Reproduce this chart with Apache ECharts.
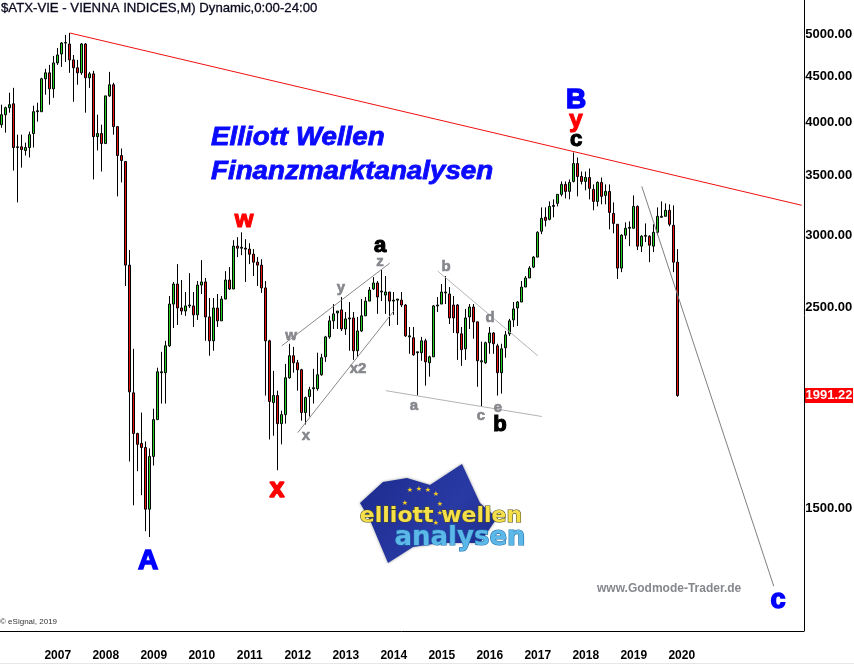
<!DOCTYPE html>
<html><head><meta charset="utf-8">
<style>html,body{margin:0;padding:0;background:#fff}#c{width:854px;height:664px}</style>
<script src="https://cdn.jsdelivr.net/npm/echarts@6/dist/echarts.min.js"></script>
</head><body><div id="c"></div>
<script>
const opens=[3961,4063,4136,4177,3738,3745,3710,3738,3873,4094,4094,4451,4519,4339,4634,4741,4874,4862,4670,4577,4519,4862,4462,4507,3843,3873,3776,4262,4384,3942,3663,3608,2773,2005,1808,1763,1745,1492,1706,1873,2110,2110,2259,2512,2643,2487,2468,2500,2500,2444,2636,2657,2431,2288,2487,2407,2544,2670,2610,2910,2895,2895,2888,2851,2794,2773,2617,2288,1956,1991,1854,1897,2083,2203,2164,2126,1907,1986,2026,2026,2099,2197,2311,2407,2456,2475,2358,2419,2425,2231,2346,2438,2531,2610,2650,2590,2570,2590,2531,2537,2537,2506,2311,2306,2220,2220,2288,2164,2197,2500,2512,2584,2577,2506,2506,2329,2242,2431,2493,2401,2169,2164,2277,2334,2259,2110,2248,2329,2413,2487,2525,2623,2684,2759,2830,3022,3131,3115,3219,3244,3319,3404,3344,3430,3589,3473,3430,3464,3361,3260,3421,3310,3344,3162,3076,2752,2992,3045,3045,3219,2910,2984,2984,2910,3014,3131,3139,3187,3068,2794];
const closes=[4063,4136,4168,3738,3745,3719,3738,3862,4094,4104,4451,4519,4339,4634,4729,4874,4880,4670,4577,4519,4862,4462,4507,3843,3873,3776,4262,4384,3942,3663,3617,2773,2010,1808,1759,1745,1492,1706,1873,2115,2115,2259,2512,2643,2487,2468,2500,2506,2444,2636,2657,2431,2288,2487,2407,2544,2670,2610,2910,2895,2902,2888,2851,2794,2773,2617,2288,1961,1991,1854,1897,2083,2203,2164,2126,1907,1981,2021,2031,2099,2192,2311,2407,2450,2468,2358,2419,2425,2231,2346,2438,2531,2603,2650,2557,2596,2590,2531,2537,2544,2506,2317,2317,2208,2225,2288,2169,2197,2500,2506,2590,2590,2425,2425,2334,2237,2425,2493,2401,2175,2175,2277,2334,2271,2110,2242,2323,2407,2481,2525,2623,2684,2752,2830,3014,3123,3107,3219,3227,3319,3404,3344,3421,3589,3473,3430,3464,3370,3260,3421,3302,3344,3170,3083,2752,2992,3045,3052,3219,2910,2984,2990,2917,3014,3139,3139,3187,3076,2794,1991.22];
const lows=[3930,3882,4084,3526,3252,3552,3663,3645,3738,3992,4094,4274,4168,4241,4611,4588,4646,4519,4199,4384,4496,4084,4350,3447,3710,3517,3776,4252,3862,3302,3421,2630,1684,1507,1643,1546,1411,1390,1667,1873,1951,1951,2253,2364,2382,2444,2438,2487,2370,2413,2577,2288,2203,2231,2370,2407,2544,2603,2610,2830,2844,2657,2780,2697,2630,2584,1991,1781,1798,1647,1759,1854,2078,2110,2016,1868,1850,1888,1951,2016,2094,2169,2300,2358,2358,2346,2323,2231,2180,2197,2340,2438,2531,2603,2450,2531,2450,2376,2444,2382,2493,2311,2214,2203,1991,2175,2042,2089,2197,2462,2512,2512,2388,2334,2180,2147,2180,2358,2300,2036,1936,2158,2214,2214,1991,2001,2192,2317,2370,2376,2525,2623,2684,2752,2830,3000,3059,3107,3131,3219,3302,3285,3277,3421,3302,3404,3353,3277,3187,3219,3236,3236,3037,3007,2677,2724,2962,2910,3045,2881,2866,2940,2794,2866,2992,3131,3139,3060,2724,1985];
const highs=[4168,4147,4296,4350,3862,3862,3785,3892,4157,4188,4462,4565,4611,4717,4813,4887,4975,5000,4729,4670,4874,4874,4530,4542,4063,3961,4262,4530,4406,3942,3729,3608,2881,2242,1812,1907,1772,1741,1926,2137,2225,2288,2564,2657,2780,2670,2590,2717,2590,2663,2808,2684,2551,2551,2577,2564,2731,2759,2954,2977,3014,2962,2932,2888,2830,2815,2663,2294,2120,2016,1916,2158,2271,2253,2180,2131,1986,2036,2131,2220,2214,2317,2438,2512,2468,2557,2462,2525,2462,2431,2544,2557,2623,2690,2663,2738,2697,2590,2590,2544,2590,2512,2370,2370,2225,2311,2300,2203,2506,2557,2643,2697,2623,2564,2512,2370,2481,2512,2512,2401,2283,2283,2370,2340,2271,2271,2346,2419,2525,2531,2663,2697,2766,2837,3022,3211,3211,3260,3277,3319,3430,3430,3447,3691,3645,3517,3517,3544,3404,3430,3464,3404,3404,3252,3076,2999,3091,3099,3310,3227,2992,3083,2992,3076,3211,3260,3244,3236,3227,2888];
const firstYear=2005, firstMonth=10, categoryCount=201;
const yTicks=[5000,4500,4000,3500,3000,2500,1500];
const yearLabels=[2007,2008,2009,2010,2011,2012,2013,2014,2015,2016,2017,2018,2019,2020];
const lastPrice=1991.22;
const resistance=[[17,5000],[200,3228]];
const channelUpper=[[70,2259],[97,2787]];
const channelLower=[[74,1812],[98,2468]];
const triangleLower=[[96,2016],[135,1888]];
const triangleUpper=[[109,2731],[134,2203]];
const projection=[[160,3387],[193,1227]];

const categories=[];
for(let i=0;i<categoryCount;i++){const m=firstMonth+i;categories.push((firstYear+Math.floor(m/12))+'-'+(m%12+1));}
const candles=opens.map((o,i)=>[o,closes[i],lows[i],highs[i]]);
const trend=(d,c,w)=>({type:'line',data:d,symbol:'none',silent:true,z:4,lineStyle:{color:c,width:w||1},animation:false});

const F='"Liberation Sans"';
function t(x,y,text,fill,size,opt,extra){return Object.assign({type:'text',z:20,x:x,y:y,style:Object.assign({text:text,fill:fill,font:'bold '+size+'px '+F,textAlign:'center',textVerticalAlign:'middle'},opt||{})},extra||{});}
const grey='#85878c';
const heavy=(c,w)=>({stroke:c,lineWidth:w});
const graphics=[
 t(1,8,'$ATX-VIE - VIENNA INDICES,M) Dynamic,0:00-24:00','#0b0b20',13,{textAlign:'left',font:'13.2px '+F,stroke:'#0b0b20',lineWidth:0.3}),
 t(211,138,'Elliott Wellen','#0a0aff',25,{textAlign:'left',font:'italic bold 25px '+F,stroke:'#0a0aff',lineWidth:0.8},{scaleX:1.11}),
 t(211,172,'Finanzmarktanalysen','#0a0aff',25,{textAlign:'left',font:'italic bold 25px '+F,stroke:'#0a0aff',lineWidth:0.8},{scaleX:1.11}),
 t(244,220,'w','#ff0000',24,heavy('#ff0000',1.2)),t(277,490,'x','#ff0000',27,heavy('#ff0000',1.5)),
 t(148,561,'A','#0000ff',28,heavy('#0000ff',1.5)),t(576,100,'B','#0000ff',28,heavy('#0000ff',1.5)),t(576,120,'y','#ff0000',24,heavy('#ff0000',1.2)),t(576,140,'c','#000',22,heavy('#000',1.2)),
 t(380,246,'a','#000',22,heavy('#000',1.2)),t(500,425,'b','#000',22,heavy('#000',1.2)),t(778,601,'c','#0000ff',27,heavy('#0000ff',1.5)),
 t(291,336,'w',grey,15,heavy(grey,.6)),t(306,436,'x',grey,15,heavy(grey,.6)),t(341,288,'y',grey,15,heavy(grey,.6)),t(380,262,'z',grey,15,heavy(grey,.6)),t(358,369,'x2',grey,15,heavy(grey,.6)),
 t(414,406,'a',grey,15,heavy(grey,.6)),t(446,267,'b',grey,15,heavy(grey,.6)),t(481,416,'c',grey,15,heavy(grey,.6)),t(490,318,'d',grey,15,heavy(grey,.6)),t(498,408,'e',grey,15,heavy(grey,.6)),
 t(597,589,'www.Godmode-Trader.de',grey,12,{textAlign:'left'}),
 t(0,622,'© eSignal, 2019','#333',8,{textAlign:'left',font:'8px '+F}),
 {type:'rect',z:20,shape:{x:805,y:388,width:48,height:15},style:{fill:'#ff0000'}},
 {type:'rect',z:1,shape:{x:0,y:663,width:854,height:1},style:{fill:'#e6e6e6'}},
 t(829,395.5,lastPrice.toFixed(2),'#fff',13),
 {type:'polygon',z:10,shape:{points:[[360,503],[383,482],[407,478],[430,485],[462,464],[480,503],[497,518],[480,543],[440,543],[413,547],[388,563],[370,520]]},
  style:{fill:{type:'linear',x:0,y:0,x2:1,y2:1,colorStops:[{offset:0,color:'#1a2a8c'},{offset:.6,color:'#2a3aa5'},{offset:1,color:'#1b2a88'}]},shadowBlur:3,shadowColor:'#999'}},
 t(441,516,'elliott wellen','#f5e04a',22,{font:'bold 22px "DejaVu Sans"',stroke:'#4a4a20',lineWidth:1.2}),
 t(460,538,'analysen','#5cb8e8',26,{font:'bold 26px "DejaVu Sans"',stroke:'#1f6fa8',lineWidth:1.2})
];
[[410,490],[419,489],[428,490],[436,494],[440,504],[440,513],[436,523],[405,503]].forEach(p=>graphics.splice(graphics.length-2,0,t(p[0],p[1],'★','#f5d020',7,{font:'7px "DejaVu Sans"'})));

const chart=echarts.init(document.getElementById('c'),null,{renderer:'canvas'});
chart.setOption({
 animation:false,backgroundColor:'#fff',
 grid:{left:-0.25,top:0,width:804,height:631,outerBoundsMode:'none'},
 xAxis:{type:'category',data:categories,boundaryGap:true,
  axisLine:{show:true,onZero:false,lineStyle:{color:'#000',width:1}},axisTick:{show:false},splitLine:{show:false},
  axisLabel:{margin:19,color:'#000',fontFamily:F,fontWeight:'bold',fontSize:12,
   interval:(i,v)=>v.endsWith('-1')&&yearLabels.includes(+v.split('-')[0]),
   formatter:v=>v.split('-')[0]}},
 yAxis:{type:'log',logBase:10,min:1095,max:5437,position:'right',offset:0.5,
  axisLine:{show:true,lineStyle:{color:'#000',width:1}},axisTick:{show:false},splitLine:{show:false},minorTick:{show:false},
  axisLabel:{customValues:yTicks,margin:1,color:'#000',fontFamily:F,fontWeight:'bold',fontSize:13,
   formatter:v=>'{a|'+(+v).toFixed(2)+'}',rich:{a:{padding:[3,0,0,0],color:'#000',fontFamily:F,fontWeight:'bold',fontSize:13}}}},
 series:[
  {type:'candlestick',data:candles,barWidth:2.5,z:2,silent:true,
   itemStyle:{color:'#22d022',color0:'#e81010',borderColor:'#000',borderColor0:'#000',borderWidth:1}},
  trend(resistance,'#f01010'),
  trend(channelUpper,'#8a8a8a'),trend(channelLower,'#8a8a8a'),
  trend(triangleLower,'#b4b4b4'),trend(triangleUpper,'#b4b4b4'),
  trend(projection,'#808080')
 ],
 graphic:graphics
});
</script></body></html>
